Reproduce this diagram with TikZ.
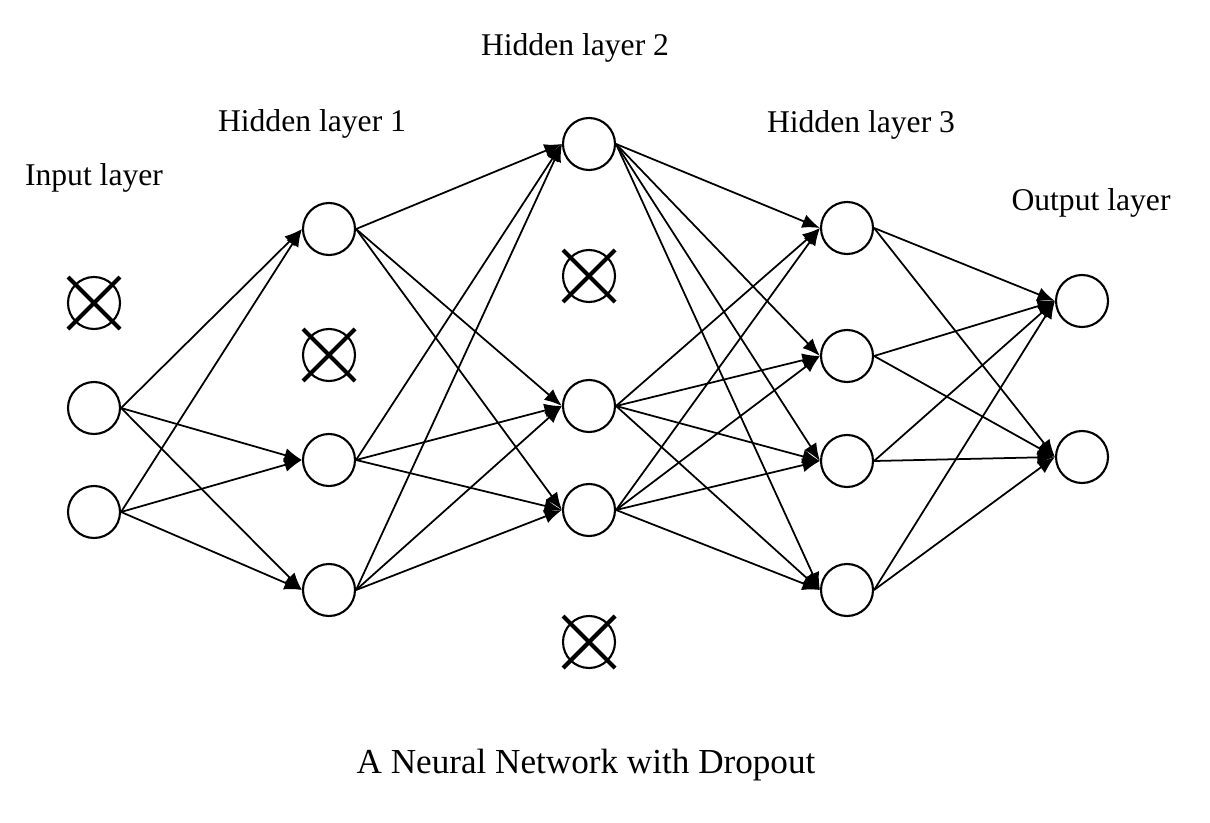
\documentclass[tikz,border=0pt]{standalone}
\usepackage{fontspec}
\setmainfont{Liberation Serif}
\usepackage{tikz}
\usetikzlibrary{
	positioning,    % per posizionare i nodi
	arrows.meta     % punte di freccia Latex
}

\begin{document}
\begin{tikzpicture}[>={Latex[length=5pt,width=4pt]}, line width=0.5pt,
	neuron/.style={circle, draw, line width=0.6pt, minimum size=0.52cm, inner sep=0pt},
	cross/.style={line width=1.2pt},
	layer/.style={anchor=base, font=\fontsize{9}{11}\selectfont}]
	% Cornice della figura
	\useasboundingbox (0,0) rectangle (12.10,8.22);
	\def\dx{0.26} % mezza ampiezza della croce
	
	% --- Neuroni ---
	% Input layer
	\node[neuron] (i1) at (0.94,5.19) {};
	\node[neuron] (i2) at (0.94,4.14) {};
	\node[neuron] (i3) at (0.94,3.10) {};
	% Hidden layer 1
	\node[neuron] (a1) at (3.29,5.93) {};
	\node[neuron] (a2) at (3.29,4.67) {};
	\node[neuron] (a3) at (3.29,3.62) {};
	\node[neuron] (a4) at (3.29,2.32) {};
	% Hidden layer 2
	\node[neuron] (b1) at (5.89,6.78) {};
	\node[neuron] (b2) at (5.89,5.46) {};
	\node[neuron] (b3) at (5.89,4.16) {};
	\node[neuron] (b4) at (5.89,3.12) {};
	\node[neuron] (b5) at (5.89,1.80) {};
	% Hidden layer 3
	\node[neuron] (c1) at (8.47,5.94) {};
	\node[neuron] (c2) at (8.47,4.66) {};
	\node[neuron] (c3) at (8.47,3.61) {};
	\node[neuron] (c4) at (8.47,2.32) {};
	% Output layer
	\node[neuron] (o1) at (10.82,5.21) {};
	\node[neuron] (o2) at (10.82,3.65) {};
	
	% --- Neuroni spenti (dropout) ---
	\foreach \n in {i1,a2,b2,b5}
		\draw[cross] ([shift={(-\dx,-\dx)}]\n.center) -- ([shift={(\dx,\dx)}]\n.center)
		([shift={(-\dx,\dx)}]\n.center) -- ([shift={(\dx,-\dx)}]\n.center);
	
	% --- Connessioni ---
	\foreach \s in {i2,i3} \foreach \t in {a1,a3,a4}
		\draw[->] (\s.east) -- (\t.west);
	\foreach \s in {a1,a3,a4} \foreach \t in {b1,b3,b4}
		\draw[->] (\s.east) -- (\t.west);
	\foreach \s in {b1,b3,b4} \foreach \t in {c1,c2,c3,c4}
		\draw[->] (\s.east) -- (\t.west);
	\foreach \s in {c1,c2,c3,c4} \foreach \t in {o1,o2}
		\draw[->] (\s.east) -- (\t.west);
	
	% --- Etichette ---
	\node[layer] (lin) at (0.94,6.36) {Input layer};
	\node[layer] (lh1) at (3.12,6.90) {Hidden layer 1};
	\node[layer] (lh2) at (5.75,7.66) {Hidden layer 2};
	\node[layer] (lh3) at (8.61,6.89) {Hidden layer 3};
	\node[layer] (lout) at (10.91,6.12) {Output layer};
	\node[anchor=base, font=\fontsize{10}{12}\selectfont] (title) at (5.86,0.49) {A Neural Network with Dropout};
\end{tikzpicture}
\end{document}
